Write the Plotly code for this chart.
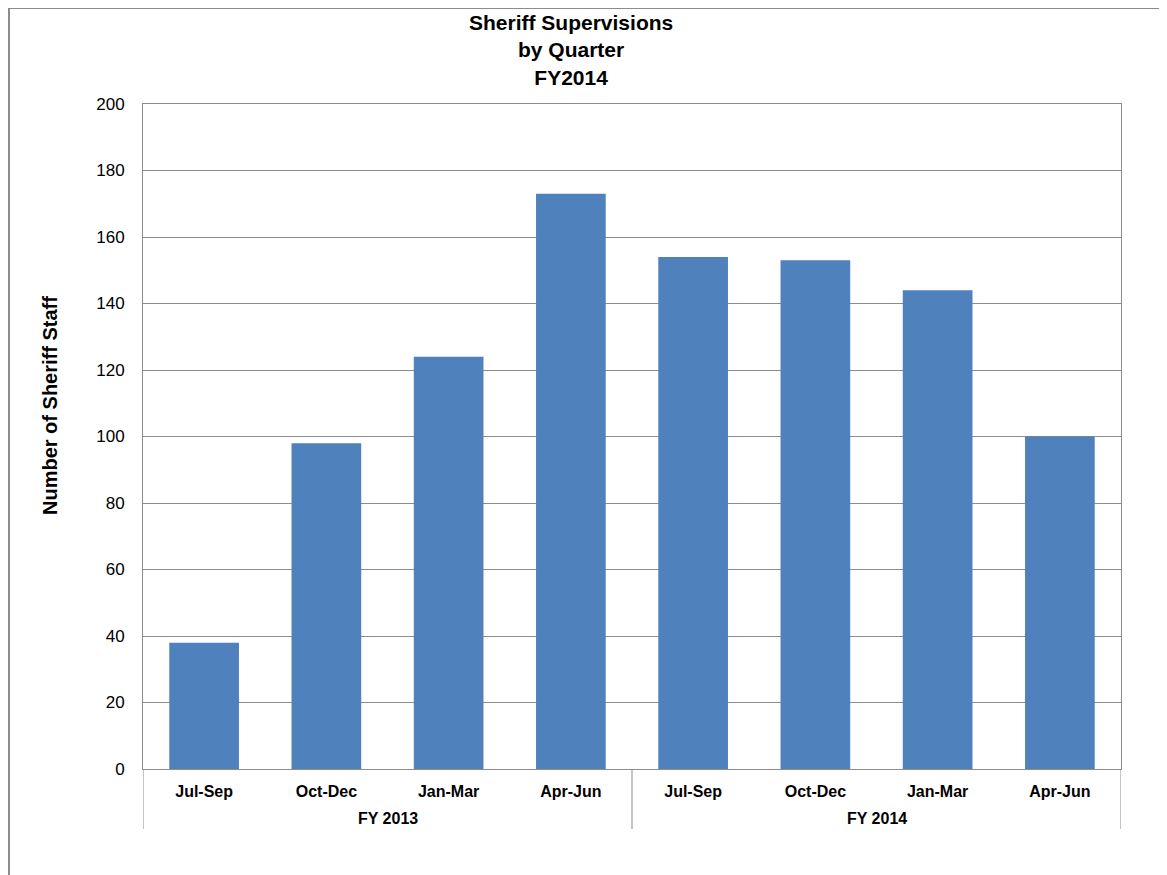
import plotly.graph_objects as go

fiscal_years = ["FY 2013", "FY 2014"]
quarters = ["Jul-Sep", "Oct-Dec", "Jan-Mar", "Apr-Jun", "Jul-Sep", "Oct-Dec", "Jan-Mar", "Apr-Jun"]
staff = [38, 98, 124, 173, 154, 153, 144, 100]
y_ticks = [0, 20, 40, 60, 80, 100, 120, 140, 160, 180, 200]

positions = list(range(len(quarters)))

FONT = "Liberation Sans, Arial, sans-serif"
GRID = "#8c8c8c"

# page offset of plotly div (body margin)
L, R, T, B = 135, 46, 96, 106
W, H = 1159, 867
PW = W - L - R   # 978
PH = H - T - B   # 665

def px_x(page_x):
    return (page_x - 8 - L) / PW

def px_y(page_y):
    return (H - B - (page_y - 8)) / PH

fig = go.Figure()
fig.add_trace(go.Bar(
    x=positions,
    y=staff,
    marker=dict(color="#4F81BD", line=dict(width=0)),
    width=0.57,
))

shapes = []
# group dividers under the axis
for xd in [-0.5, 3.5, 7.5]:
    shapes.append(dict(type="line", xref="x", yref="paper", x0=xd, x1=xd,
                       y0=0, y1=px_y(829), line=dict(color=GRID, width=1)))
# outer chart frame
shapes.append(dict(type="rect", xref="paper", yref="paper",
                   x0=px_x(9), x1=1.3, y0=-0.5, y1=px_y(8),
                   line=dict(color="#8c8c8c", width=2), fillcolor="rgba(0,0,0,0)", layer="below"))

annotations = [
    dict(text="<b>Sheriff Supervisions<br>by Quarter<br>FY2014</b>", xref="paper", yref="paper",
         x=px_x(571), y=px_y(50), xanchor="center", yanchor="middle", showarrow=False,
         font=dict(family=FONT, size=21, color="black")),
    dict(text="<b>Number of Sheriff Staff</b>", xref="paper", yref="paper",
         x=px_x(50), y=px_y(406), xanchor="center", yanchor="middle", showarrow=False,
         textangle=-90, font=dict(family=FONT, size=20, color="black")),
]
for i, fy in enumerate(fiscal_years):
    annotations.append(dict(text="<b>%s</b>" % fy, xref="x", yref="paper",
                            x=1.5 + 4 * i, y=px_y(818), xanchor="center", yanchor="middle",
                            showarrow=False, font=dict(family=FONT, size=16, color="black")))

fig.update_layout(
    width=W, height=H,
    margin=dict(l=L, r=R, t=T, b=B),
    paper_bgcolor="white", plot_bgcolor="white",
    showlegend=False,
    font=dict(family=FONT, color="black"),
    xaxis=dict(
        range=[-0.5, 7.5],
        tickvals=positions, ticktext=["<b>%s</b>" % q for q in quarters],
        showline=True, linecolor=GRID, linewidth=1, mirror=True,
        showgrid=False, zeroline=False,
        tickfont=dict(family=FONT, size=16, color="black"),
        ticks="", ticklabelstandoff=8,
    ),
    yaxis=dict(
        range=[0, 200],
        tickvals=y_ticks,
        showline=True, linecolor=GRID, linewidth=1, mirror=True,
        showgrid=True, gridcolor=GRID, gridwidth=1,
        zeroline=False,
        tickfont=dict(family=FONT, size=17, color="black"),
        ticks="", ticklabelstandoff=14,
    ),
    shapes=shapes,
    annotations=annotations,
)

fig.write_html("out.html")
